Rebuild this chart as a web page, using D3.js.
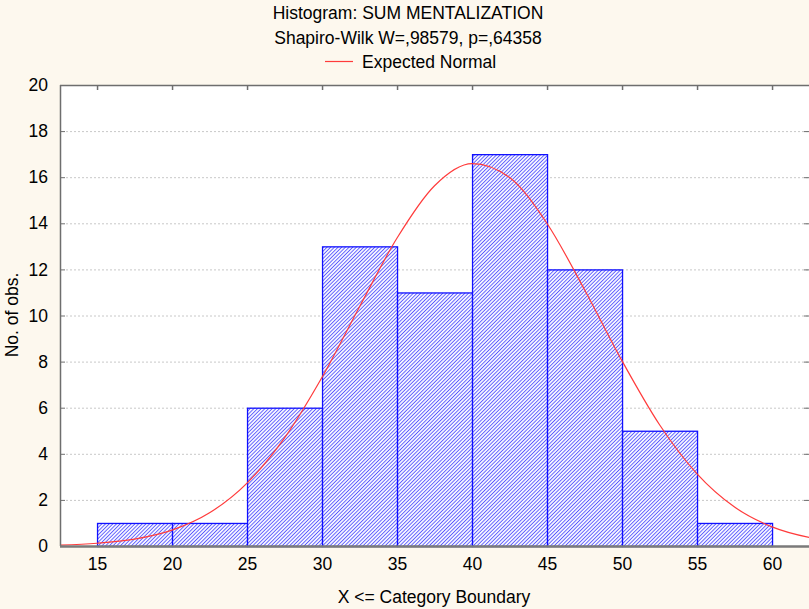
<!DOCTYPE html>
<html>
<head>
<meta charset="utf-8">
<script src="https://cdn.jsdelivr.net/npm/d3@7"></script>
<style>
  html, body { margin: 0; padding: 0; background: #fdf8ee; }
  svg { display: block; font-family: "Liberation Sans", Arial, sans-serif; }
</style>
</head>
<body>
<svg id="chart" width="809" height="609"></svg>
<script>
// Histogram bins (upper category boundary) and observed counts
const binStarts = [15, 20, 25, 30, 35, 40, 45, 50, 55];
const binWidth = 5;
const counts = [1, 1, 6, 13, 11, 17, 12, 5, 1];

// Expected normal curve, sampled along the x axis
const curveX = [12.5, 15, 17.5, 20, 22.5, 25, 27.5, 30, 32.5, 35, 37.5, 40, 42.5, 45, 47.5, 50, 52.5, 55, 57.5, 60, 62.5, 63];
const curveY = [0.04, 0.12, 0.30, 0.69, 1.44, 2.73, 4.69, 7.32, 10.38, 13.36, 15.63, 16.59, 15.99, 13.99, 11.12, 8.03, 5.26, 3.13, 1.69, 0.83, 0.37, 0.31];

const xTicks = [15, 20, 25, 30, 35, 40, 45, 50, 55, 60];
const yTicks = [0, 2, 4, 6, 8, 10, 12, 14, 16, 18, 20];

const titleText = "Histogram: SUM MENTALIZATION";
const subtitleText = "Shapiro-Wilk W=,98579, p=,64358";
const legendText = "Expected Normal";
const xLabel = "X <= Category Boundary";
const yLabel = "No. of obs.";

const FS = 17.5;
const svg = d3.select("#chart");
const m = { left: 60, top: 85, right: 810, bottom: 546 };

const x = d3.scaleLinear().domain([12.53, 62.53]).range([m.left, m.right]);
const y = d3.scaleLinear().domain([0, 20]).range([m.bottom, m.top]);

// Hatch pattern for the bars
const defs = svg.append("defs");
const hs = 2.6;
const pat = defs.append("pattern")
  .attr("id", "hatch")
  .attr("patternUnits", "userSpaceOnUse")
  .attr("width", hs).attr("height", hs)
  .attr("patternTransform", "rotate(45)");
pat.append("rect").attr("width", hs).attr("height", hs).attr("fill", "#f4f4ff");
pat.append("line").attr("x1", 0).attr("y1", 0).attr("x2", 0).attr("y2", hs)
  .attr("stroke", "#2e2eff").attr("stroke-width", 1.35);

defs.append("clipPath").attr("id", "plotclip")
  .append("rect").attr("x", m.left).attr("y", m.top)
  .attr("width", m.right - m.left).attr("height", m.bottom - m.top);

// Plot area
svg.append("rect")
  .attr("x", m.left).attr("y", m.top)
  .attr("width", m.right - m.left).attr("height", m.bottom - m.top)
  .attr("fill", "#ffffff");

// Horizontal dotted grid
svg.append("g").selectAll("line")
  .data(yTicks.filter(d => d > 0 && d < 20))
  .join("line")
  .attr("x1", m.left + 6).attr("x2", m.right)
  .attr("y1", d => y(d) + 0.5).attr("y2", d => y(d) + 0.5)
  .attr("stroke", "#c8c8c8").attr("stroke-width", 1)
  .attr("stroke-dasharray", "2,2");

// Bars
svg.append("g").selectAll("rect")
  .data(binStarts.map((s, i) => ({ s, c: counts[i] })))
  .join("rect")
  .attr("x", d => x(d.s) + 0.5)
  .attr("y", d => y(d.c) + 0.5)
  .attr("width", d => x(d.s + binWidth) - x(d.s))
  .attr("height", d => y(0) - y(d.c))
  .attr("fill", "url(#hatch)")
  .attr("stroke", "#1010ff").attr("stroke-width", 1.3);

// Expected normal curve
const line = d3.line().x(d => x(d[0])).y(d => y(d[1])).curve(d3.curveMonotoneX);
svg.append("path")
  .datum(curveX.map((v, i) => [v, curveY[i]]))
  .attr("clip-path", "url(#plotclip)")
  .attr("d", line)
  .attr("fill", "none")
  .attr("stroke", "#ff3b3b").attr("stroke-width", 1.2);

// Frame: left and top lines, thick bottom baseline
const frame = svg.append("g").attr("stroke", "#6e6e6e").attr("fill", "none");
frame.append("line").attr("x1", m.left + 0.5).attr("x2", m.left + 0.5)
  .attr("y1", m.top).attr("y2", m.bottom).attr("stroke-width", 1.5);
frame.append("line").attr("x1", m.left).attr("x2", m.right)
  .attr("y1", m.top + 0.5).attr("y2", m.top + 0.5).attr("stroke-width", 1.5);
frame.append("line").attr("x1", m.left).attr("x2", m.right)
  .attr("y1", m.bottom + 0.5).attr("y2", m.bottom + 0.5)
  .attr("stroke", "#7a7a7a").attr("stroke-width", 2.5);

// Inward ticks on left, top and right
frame.selectAll(".lt").data(yTicks.filter(d => d > 0 && d < 20)).join("line")
  .attr("x1", m.left).attr("x2", m.left + 5)
  .attr("y1", d => y(d) + 0.5).attr("y2", d => y(d) + 0.5);
frame.selectAll(".rt").data(yTicks.filter(d => d > 0 && d < 20)).join("line")
  .attr("x1", 804).attr("x2", 809)
  .attr("y1", d => y(d) + 0.5).attr("y2", d => y(d) + 0.5);
frame.selectAll(".tt").data(xTicks).join("line")
  .attr("x1", d => x(d) + 0.5).attr("x2", d => x(d) + 0.5)
  .attr("y1", m.top).attr("y2", m.top + 5).attr("stroke-width", 1.5);

// Axis labels via d3 axes (lines hidden, labels kept)
const yAxis = svg.append("g")
  .attr("transform", `translate(${m.left},0)`)
  .call(d3.axisLeft(y).tickValues(yTicks).tickSize(0).tickPadding(12));
yAxis.select(".domain").remove();
yAxis.selectAll("text").attr("font-size", FS).attr("fill", "#000")
  .attr("font-family", "'Liberation Sans', Arial, sans-serif");

const xAxis = svg.append("g")
  .attr("transform", `translate(0,${m.bottom})`)
  .call(d3.axisBottom(x).tickValues(xTicks).tickSize(0).tickPadding(12));
xAxis.select(".domain").remove();
xAxis.selectAll("text").attr("font-size", FS).attr("fill", "#000")
  .attr("font-family", "'Liberation Sans', Arial, sans-serif");

// Titles and legend
const txt = (s, xx, yy) => svg.append("text").attr("x", xx).attr("y", yy)
  .attr("text-anchor", "middle").attr("font-size", FS).attr("fill", "#000").text(s);
txt(titleText, 408, 19);
txt(subtitleText, 408, 44);
svg.append("text").attr("x", 362).attr("y", 68).attr("font-size", FS)
  .attr("fill", "#000").text(legendText);
svg.append("line").attr("x1", 325).attr("x2", 353).attr("y1", 61.5).attr("y2", 61.5)
  .attr("stroke", "#ff3b3b").attr("stroke-width", 1.2);

txt(xLabel, 434, 603);
svg.append("text")
  .attr("transform", "translate(18,315) rotate(-90)")
  .attr("text-anchor", "middle").attr("font-size", FS).attr("fill", "#000")
  .text(yLabel);
</script>
</body>
</html>
